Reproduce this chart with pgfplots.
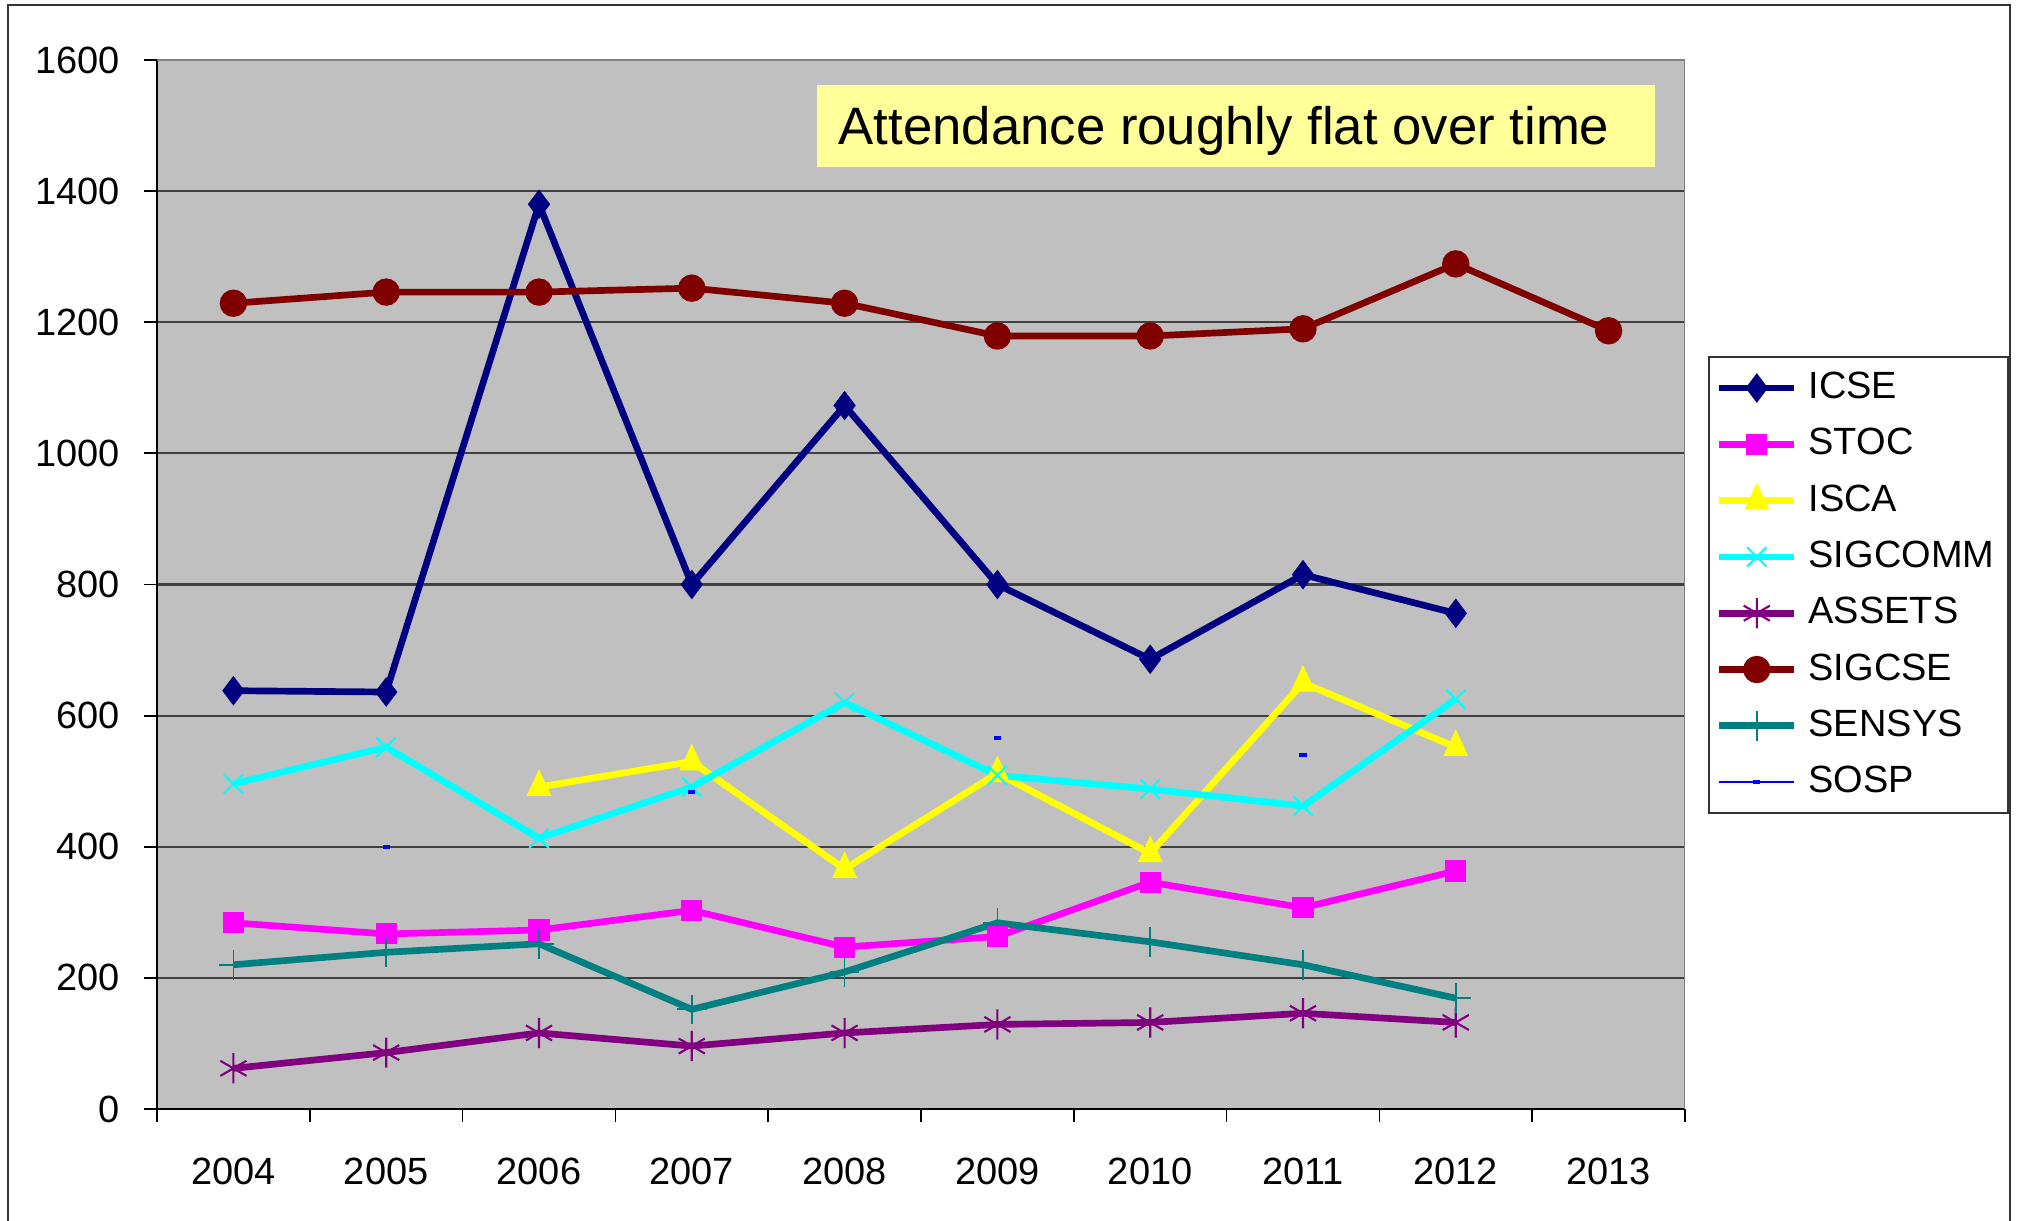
\documentclass[border=0pt]{standalone}
\usepackage{pgfplots}
\usepackage{pgfplotstable}
\pgfplotsset{compat=1.18}
\usepackage{fontspec}
\setmainfont{Liberation Sans}

\definecolor{icse}{HTML}{000080}
\definecolor{stoc}{HTML}{FF00FF}
\definecolor{isca}{HTML}{FFFF00}
\definecolor{sigcomm}{HTML}{00FFFF}
\definecolor{assets}{HTML}{800080}
\definecolor{sigcse}{HTML}{800000}
\definecolor{sensys}{HTML}{008080}
\definecolor{sosp}{HTML}{0000FF}
\definecolor{plotbg}{HTML}{C0C0C0}
\definecolor{gridc}{HTML}{404040}
\definecolor{titlebg}{HTML}{FFFF99}

% attendance per year, x = 0 is 2004
\pgfplotstableread{
x icse stoc isca sigcomm assets sigcse sensys sosp
0 638  284 nan 496 62  1229 220 nan
1 636  267 nan 552 86  1246 239 400
2 1380 273 491 413 116 1246 252 nan
3 800  303 530 491 96  1252 152 484
4 1073 247 366 620 116 1229 209 nan
5 800  263 512 509 129 1179 284 566
6 686  346 390 488 132 1179 255 nan
7 815  307 650 462 146 1190 220 540
8 756  363 552 625 132 1289 169 nan
9 nan  nan nan nan nan 1187 nan nan
}\attendance

\begin{document}
\begin{tikzpicture}
\useasboundingbox (0,0) rectangle (20.17,12.20);
\draw[black!80, line width=0.6pt] (0.08,-0.5) rectangle (20.10,12.15);
\begin{axis}[
    at={(1.57cm,1.11cm)}, anchor=south west,
    scale only axis, width=15.28cm, height=10.49cm,
    xmin=-0.5, xmax=9.5, ymin=0, ymax=1600,
    axis x line*=bottom, axis y line*=left,
    axis line style={black, line width=0.6pt},
    axis background/.style={fill=plotbg},
    xtick={0,1,2,3,4,5,6,7,8,9},
    xticklabels={2004,2005,2006,2007,2008,2009,2010,2011,2012,2013},
    major x tick style={draw=none},
    minor xtick={-0.5,0.5,...,9.5},
    ytick={0,200,...,1600},
    tick align=outside,
    major tick length=0.13cm, minor tick length=0.13cm,
    tick style={black, line width=0.5pt},
    ymajorgrids, grid style={gridc, line width=0.6pt},
    tick label style={font=\fontsize{10.8}{13}\selectfont},
    /pgf/number format/assume math mode=true,
    /pgf/number format/1000 sep={},
    xticklabel style={yshift=-0.24cm},
    yticklabel style={xshift=-0.12cm},
    unbounded coords=jump,
    legend style={at={(1.015,0.718)}, anchor=north west, draw=black!80,
        line width=0.6pt, fill=white, font=\fontsize{10.8}{13}\selectfont,
        row sep=0pt, inner xsep=0.07cm, inner ysep=0.03cm,
        nodes={inner ysep=0pt, minimum height=0.563cm},
        /tikz/every odd column/.append style={column sep=0.04cm}},
    legend cell align=left,
    legend image code/.code={\draw[mark repeat=2,mark phase=2,#1]
        plot coordinates {(0cm,0cm) (0.375cm,0cm) (0.75cm,0cm)};},
]
\addplot[color=icse, line width=1.9pt, mark=diamond*, mark size=3.9pt,
    mark options={solid, fill=icse, line width=0.4pt}]
    table[x=x, y=icse] {\attendance};
\addlegendentry{ICSE}
\addplot[color=stoc, line width=1.9pt, mark=square*, mark size=2.8pt,
    mark options={solid, fill=stoc, line width=0.4pt}]
    table[x=x, y=stoc] {\attendance};
\addlegendentry{STOC}
\addplot[color=isca, line width=1.9pt, mark=triangle*, mark size=3.7pt,
    mark options={solid, fill=isca, line width=0.4pt, yscale=1.25}]
    table[x=x, y=isca] {\attendance};
\addlegendentry{ISCA}
\addplot[color=sigcomm, line width=1.9pt, mark=x, mark size=3.9pt,
    mark options={solid, line width=0.6pt}]
    table[x=x, y=sigcomm] {\attendance};
\addlegendentry{SIGCOMM}
\addplot[color=assets, line width=1.9pt, mark=asterisk, mark size=4.3pt,
    mark options={solid, line width=0.6pt}]
    table[x=x, y=assets] {\attendance};
\addlegendentry{ASSETS}
\addplot[color=sigcse, line width=1.9pt, mark=*, mark size=3.7pt,
    mark options={solid, fill=sigcse, line width=0.4pt}]
    table[x=x, y=sigcse] {\attendance};
\addlegendentry{SIGCSE}
\addplot[color=sensys, line width=1.9pt, mark=+, mark size=4.2pt,
    mark options={solid, line width=0.5pt}]
    table[x=x, y=sensys] {\attendance};
\addlegendentry{SENSYS}
\addplot[color=sosp, line width=0.6pt, mark=-, mark size=1pt,
    mark options={solid, line width=1.2pt}]
    table[x=x, y=sosp] {\attendance};
\addlegendentry{SOSP}
\draw[gray, line width=0.6pt] (rel axis cs:0,1) -- (rel axis cs:1,1) -- (rel axis cs:1,0);
\end{axis}
% title box
\fill[titlebg] (8.17,10.53) rectangle (16.55,11.35);
\node[anchor=west, inner sep=0pt, font=\fontsize{15}{18}\selectfont]
    at (8.38,10.89) {Attendance roughly flat over time};
\end{tikzpicture}
\end{document}
